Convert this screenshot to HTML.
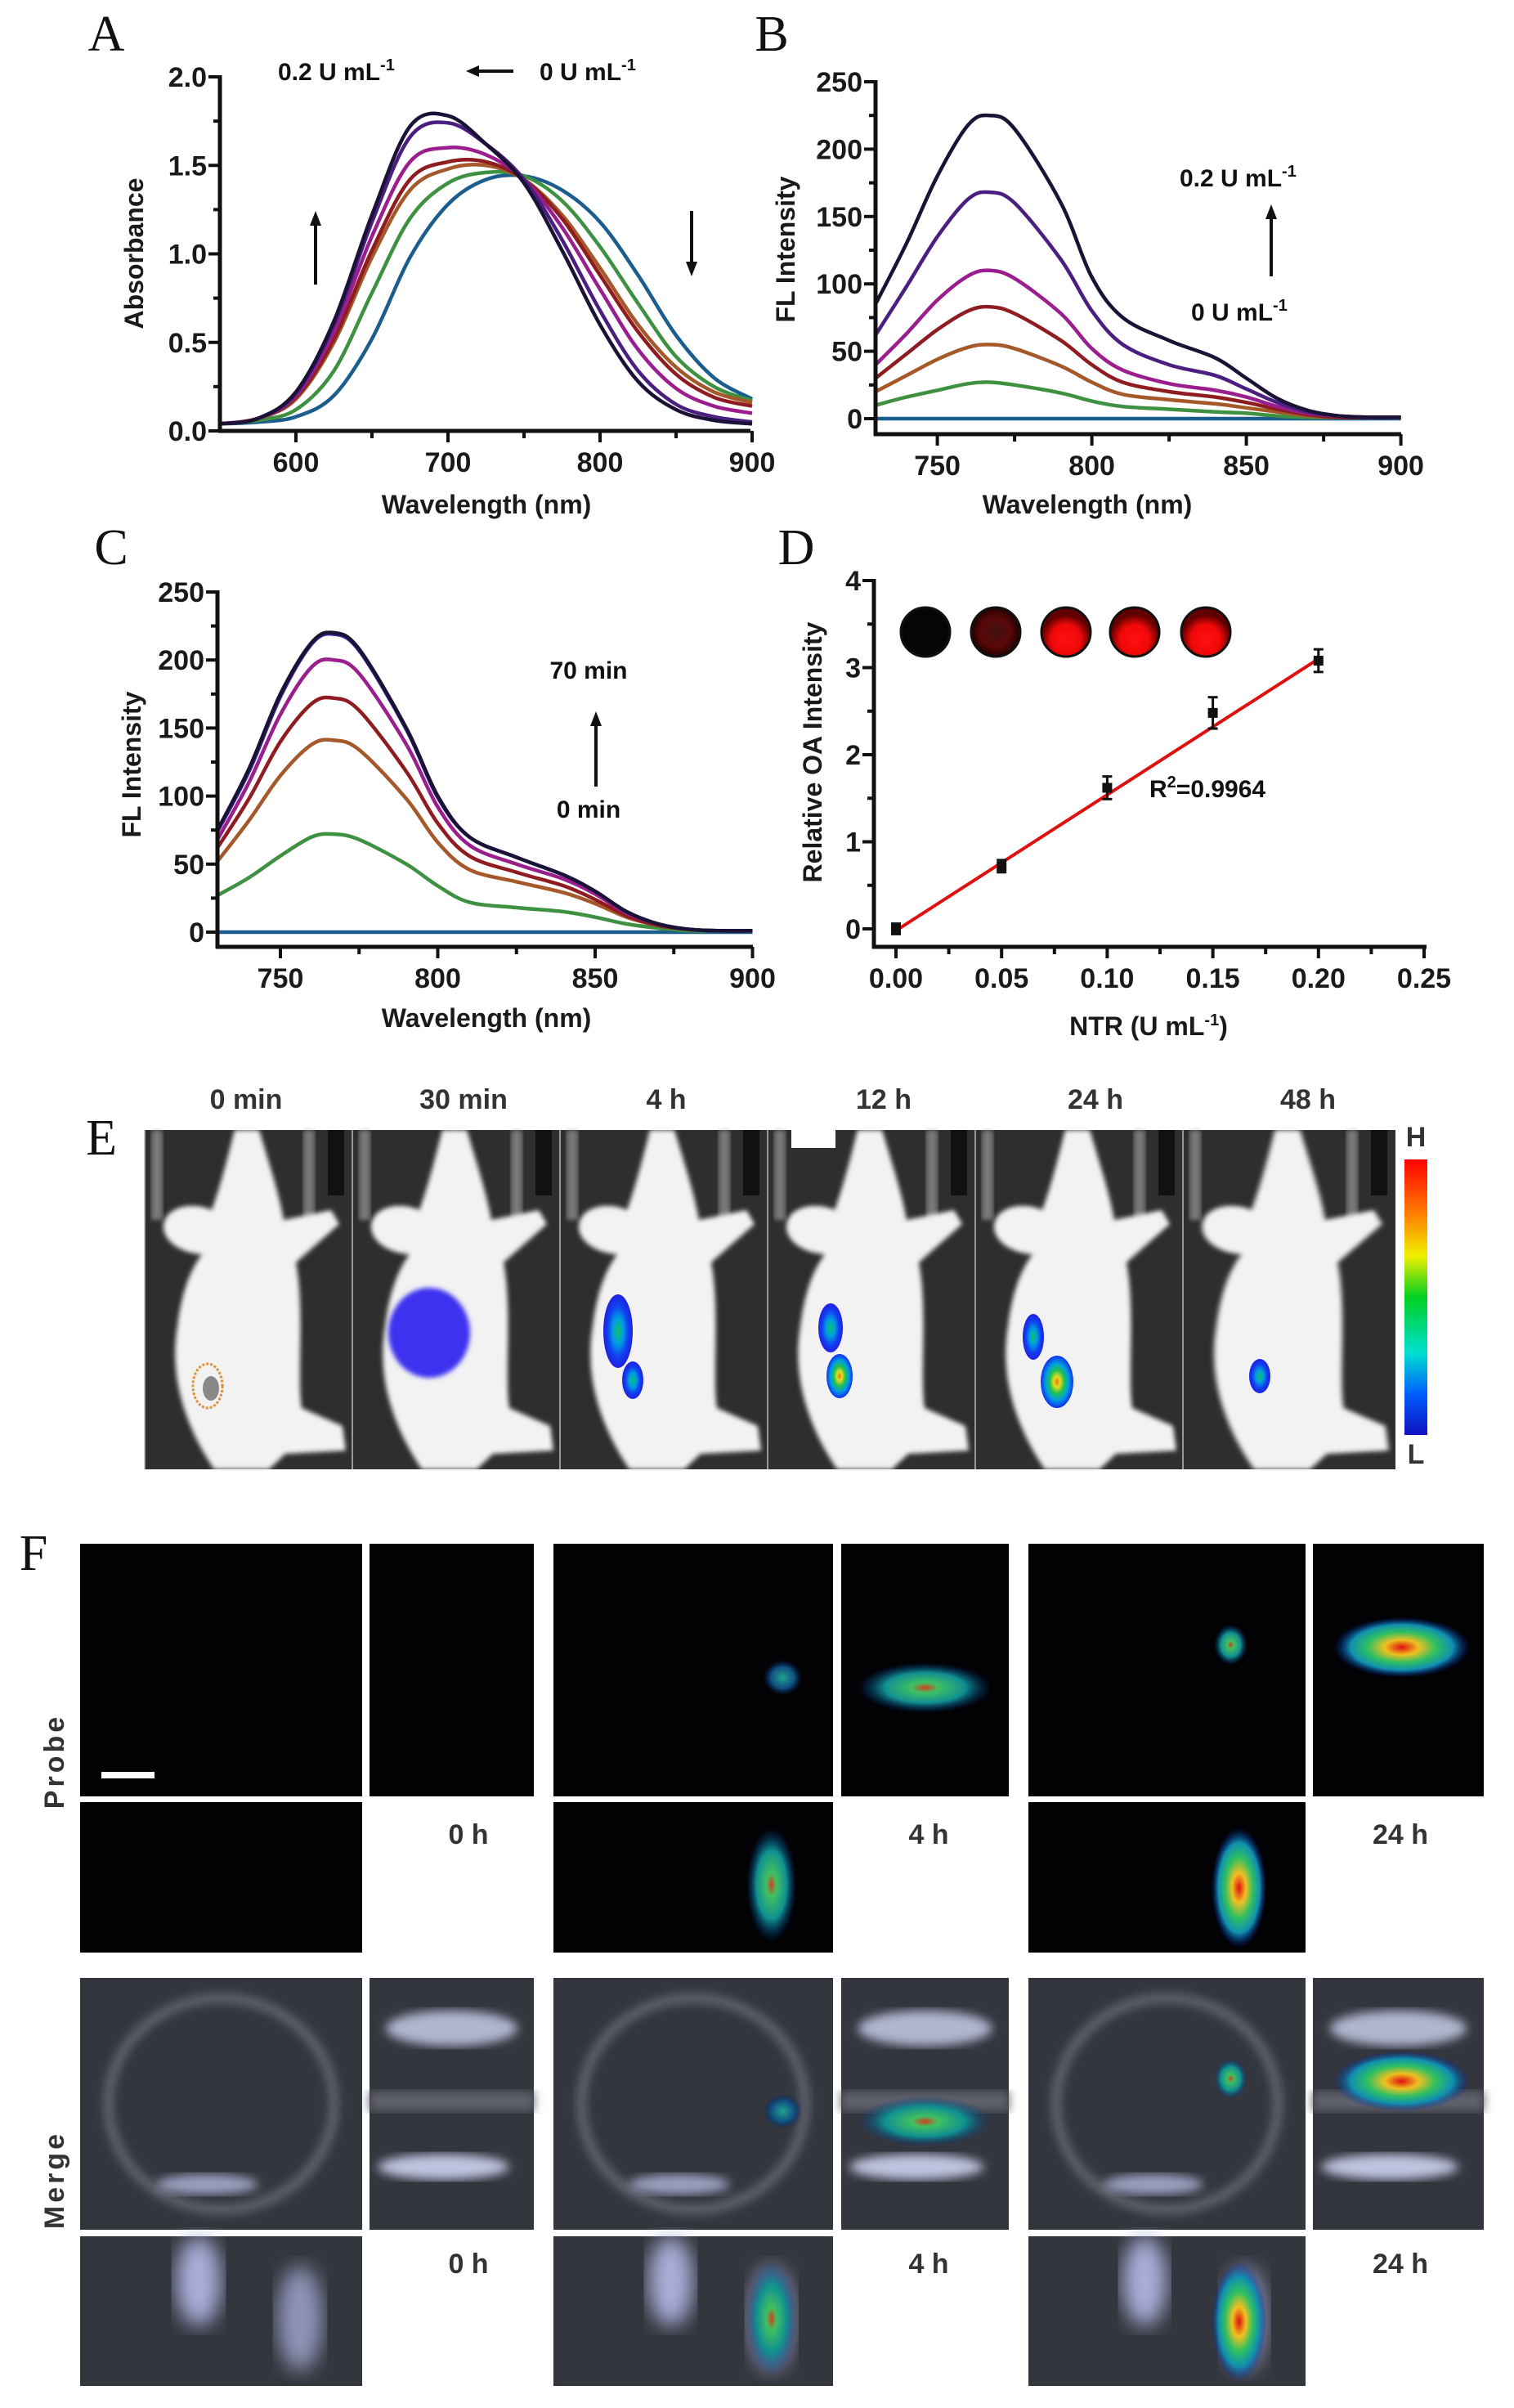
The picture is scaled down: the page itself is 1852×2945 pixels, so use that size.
<!DOCTYPE html>
<html><head><meta charset="utf-8">
<style>
html,body{margin:0;padding:0;background:#fff;}
svg{display:block;}
text{font-family:"Liberation Sans",Arial,sans-serif;}
.tk{font-size:34px;font-weight:bold;fill:#1a1a1a;}
.at{font-size:32px;font-weight:bold;fill:#1a1a1a;}
.pl{font-family:"Liberation Serif",serif;font-size:62px;fill:#111;}
.ann{font-size:30px;font-weight:bold;fill:#111;}
.el{font-size:34px;font-weight:bold;fill:#333;}
</style></head>
<body>
<svg id="fig" width="1852" height="2945" viewBox="0 0 1852 2945" xmlns="http://www.w3.org/2000/svg">
<defs>
<filter id="blur3"><feGaussianBlur stdDeviation="3"/></filter>
<filter id="blur6"><feGaussianBlur stdDeviation="6"/></filter>
<filter id="blur12"><feGaussianBlur stdDeviation="12"/></filter>
<radialGradient id="jetHot"><stop offset="0" stop-color="#e01010"/><stop offset="0.25" stop-color="#f0c020"/><stop offset="0.5" stop-color="#30c060"/><stop offset="0.75" stop-color="#1090b0"/><stop offset="1" stop-color="#0020a0" stop-opacity="0"/></radialGradient>
<radialGradient id="jetMid"><stop offset="0" stop-color="#d04020"/><stop offset="0.2" stop-color="#40c060"/><stop offset="0.6" stop-color="#109090"/><stop offset="1" stop-color="#003080" stop-opacity="0"/></radialGradient>
<radialGradient id="jetLow"><stop offset="0" stop-color="#20a090"/><stop offset="0.6" stop-color="#105080"/><stop offset="1" stop-color="#002060" stop-opacity="0"/></radialGradient>
<radialGradient id="ivisBlue"><stop offset="0" stop-color="#10c060"/><stop offset="0.35" stop-color="#00a0e0"/><stop offset="0.7" stop-color="#1040f0"/><stop offset="1" stop-color="#2020e0"/></radialGradient>
<radialGradient id="ivisHot"><stop offset="0" stop-color="#f07010"/><stop offset="0.2" stop-color="#e0e020"/><stop offset="0.45" stop-color="#20c050"/><stop offset="0.7" stop-color="#00a0e0"/><stop offset="1" stop-color="#1030f0"/></radialGradient>
<radialGradient id="dish1"><stop offset="0" stop-color="#401010"/><stop offset="0.6" stop-color="#5a0808"/><stop offset="1" stop-color="#200000"/></radialGradient>
<radialGradient id="dish2" cx="0.5" cy="0.65"><stop offset="0" stop-color="#ff1010"/><stop offset="0.6" stop-color="#f00808"/><stop offset="1" stop-color="#600000"/></radialGradient>
<linearGradient id="cbar" x1="0" y1="0" x2="0" y2="1"><stop offset="0" stop-color="#ff0000"/><stop offset="0.2" stop-color="#ff8000"/><stop offset="0.35" stop-color="#f0f000"/><stop offset="0.5" stop-color="#00d020"/><stop offset="0.7" stop-color="#00e0d0"/><stop offset="0.85" stop-color="#0060ff"/><stop offset="1" stop-color="#1010c0"/></linearGradient>
<radialGradient id="greyGlow"><stop offset="0" stop-color="#c8ccdc"/><stop offset="1" stop-color="#c8ccdc" stop-opacity="0"/></radialGradient>
</defs>
<g id="charts"></g>
<g id="panelE"></g>
<g id="panelF"></g>
</svg>
<script>
// ---------- DATA ----------
const wlA = [550,575,600,625,650,675,700,725,750,775,800,825,850,875,900];
const absBlack   = [0.04,0.07,0.22,0.62,1.22,1.72,1.78,1.62,1.40,1.02,0.60,0.28,0.12,0.06,0.04];
const absIndigo  = [0.04,0.07,0.21,0.60,1.18,1.66,1.74,1.62,1.42,1.08,0.68,0.34,0.15,0.08,0.05];
const absMagenta = [0.04,0.07,0.20,0.56,1.10,1.52,1.60,1.56,1.42,1.15,0.80,0.46,0.24,0.14,0.10];
const absRed     = [0.04,0.07,0.19,0.52,1.02,1.42,1.52,1.52,1.42,1.20,0.88,0.56,0.32,0.19,0.14];
const absBrown   = [0.04,0.07,0.18,0.50,0.98,1.36,1.48,1.50,1.42,1.22,0.92,0.60,0.36,0.22,0.16];
const absGreen   = [0.04,0.06,0.12,0.34,0.78,1.20,1.40,1.46,1.44,1.30,1.04,0.72,0.42,0.25,0.17];
const absBlue    = [0.04,0.05,0.08,0.20,0.52,0.98,1.28,1.42,1.44,1.36,1.18,0.88,0.54,0.30,0.18];
const ticksA_y = [0,0.5,1.0,1.5,2.0];
const ticksA_yLabels = ["0.0","0.5","1.0","1.5","2.0"];
const ticksA_x = [600,700,800,900];

const wlB = [730,740,750,760,767,775,790,800,810,825,840,850,860,870,880,890,900];
const flB_black   = [85,130,180,218,225,215,160,105,75,58,45,30,15,6,2,1,1];
const flB_indigo  = [62,98,135,163,168,160,118,80,55,40,32,22,12,5,2,1,1];
const flB_magenta = [40,63,88,106,110,104,78,52,36,26,21,16,9,4,2,1,1];
const flB_red     = [30,48,66,80,83,78,58,40,27,20,16,12,7,3,1,1,1];
const flB_brown   = [20,32,44,53,55,52,39,27,18,14,11,8,5,2,1,1,1];
const flB_green   = [10,16,21,26,27,25,19,13,9,7,5,4,2,1,1,1,1];
const flB_blue    = [0,0,0,0,0,0,0,0,0,0,0,0,0,0,0,0,0];

const flC_black   = [75,120,175,213,220,208,150,100,70,55,42,30,15,6,2,1,1];
const flC_indigo  = [74,118,173,212,219,207,149,99,70,55,42,30,15,6,2,1,1];
const flC_magenta = [68,110,160,195,200,190,138,92,64,50,39,28,14,6,2,1,1];
const flC_red     = [62,98,140,168,172,163,118,80,56,44,34,24,12,5,2,1,1];
const flC_brown   = [52,82,115,138,141,134,98,66,46,37,29,21,11,5,2,1,1];
const flC_green   = [27,40,56,70,72,68,50,34,22,18,15,11,6,3,1,1,1];
const flC_blue    = [0,0,0,0,0,0,0,0,0,0,0,0,0,0,0,0,0];
const ticksFL_y = [0,50,100,150,200,250];
const ticksFL_x = [750,800,850,900];

const ntrConc = [0,0.05,0.10,0.15,0.20];
const oaValue = [0.0,0.72,1.62,2.48,3.08];
const oaErr   = [0.06,0.07,0.13,0.18,0.13];
const fitSlope = 15.6, fitIntercept = -0.02;
const ticksD_x = [0,0.05,0.10,0.15,0.20,0.25];
const ticksD_xLabels = ["0.00","0.05","0.10","0.15","0.20","0.25"];
const ticksD_y = [0,1,2,3,4];

const colors = ["#1b1236","#4a1f80","#9a1e8e","#8e1c20","#a5582a","#3e9140","#1b5d8c"];

// ---------- helpers ----------
const NS="http://www.w3.org/2000/svg";
const charts=document.getElementById('charts');
function mk(tag,attrs,parent){const e=document.createElementNS(NS,tag);for(const k in attrs)e.setAttribute(k,attrs[k]);(parent||charts).appendChild(e);return e;}
function smooth(pts){let d="M"+pts[0][0].toFixed(1)+","+pts[0][1].toFixed(1);
 for(let i=0;i<pts.length-1;i++){const p0=pts[Math.max(0,i-1)],p1=pts[i],p2=pts[i+1],p3=pts[Math.min(pts.length-1,i+2)];
  const c1=[p1[0]+(p2[0]-p0[0])/6,p1[1]+(p2[1]-p0[1])/6],c2=[p2[0]-(p3[0]-p1[0])/6,p2[1]-(p3[1]-p1[1])/6];
  d+=" C"+c1[0].toFixed(1)+","+c1[1].toFixed(1)+" "+c2[0].toFixed(1)+","+c2[1].toFixed(1)+" "+p2[0].toFixed(1)+","+p2[1].toFixed(1);}
 return d;}
function txt(x,y,s,cls,anchor,extra){const t=mk('text',Object.assign({x:x,y:y,class:cls,'text-anchor':anchor||'middle'},extra||{}));t.textContent=s;return t;}

function drawAxes(o){
 const yAx=mk('line',{x1:o.x0,y1:o.yTop,x2:o.x0,y2:o.xLineY+2,stroke:'#111','stroke-width':5});
 
 
 const xAx=mk('line',{x1:o.x0-2,y1:o.xLineY,x2:o.x1,y2:o.xLineY,stroke:'#111','stroke-width':5});
 
 
 o.yt.forEach((v,i)=>{const y=o.ys(v);mk('line',{x1:o.x0-14,y1:y,x2:o.x0,y2:y,stroke:'#111','stroke-width':4});
  const t=txt(o.x0-16,y+12,o.ytl[i],'tk','end');
  
  });
 (o.minorY||[]).forEach(v=>{const y=o.ys(v);mk('line',{x1:o.x0-8,y1:y,x2:o.x0,y2:y,stroke:'#111','stroke-width':4});});
 o.xt.forEach((v,i)=>{const x=o.xs(v);mk('line',{x1:x,y1:o.xLineY,x2:x,y2:o.xLineY+14,stroke:'#111','stroke-width':4});
  const t=txt(x,o.xLineY+50,o.xtl[i],'tk','middle');
  
  });
 (o.minorX||[]).forEach(v=>{const x=o.xs(v);mk('line',{x1:x,y1:o.xLineY,x2:x,y2:o.xLineY+9,stroke:'#111','stroke-width':4});});
}
function drawSeries(xsArr,series,xs,ys,name,cols){
 series.forEach((s,i)=>{const pts=xsArr.map((w,j)=>[xs(w),ys(s[j])]);
  const p=mk('path',{d:smooth(pts),fill:'none',stroke:cols[i],'stroke-width':4.5,'stroke-linejoin':'round'});
  
  });
}
function arrow(x,y1,y2){
 const dir=y2<y1?1:-1;
 mk('line',{x1:x,y1:y1,x2:x,y2:y2+dir*14,stroke:'#111','stroke-width':4});
 mk('polygon',{points:`${x-7},${y2+dir*18} ${x+7},${y2+dir*18} ${x},${y2}`,fill:'#111'});
}
function unitLabel(x,y,num,anchor){
 const t=mk('text',{x:x,y:y,class:'ann','text-anchor':anchor||'start'});
 t.appendChild(document.createTextNode(num+' U mL'));
 const s=document.createElementNS(NS,'tspan');s.setAttribute('dy','-12');s.setAttribute('font-size','20');s.textContent='-1';t.appendChild(s);
 return t;
}
const revCols=colors.slice().reverse(); // blue, green, brown, red, magenta, indigo, black

// ---------- Panel A ----------
const xA=w=>269+(w-550)*1.86, yA=v=>527-v*216.5;
let t=txt(130,62,'A','pl','middle');
drawSeries(wlA,[absBlue,absGreen,absBrown,absRed,absMagenta,absIndigo,absBlack],xA,yA,'panel-a',revCols);
drawAxes({x0:269,x1:918,yTop:yA(2.0)-2,xLineY:527,xs:xA,ys:yA,xt:ticksA_x,xtl:ticksA_x.map(String),yt:ticksA_y,ytl:ticksA_yLabels,
 minorY:[0.25,0.75,1.25,1.75],minorX:[650,750,850],name:'panel-a'});
t=txt(175,310,'Absorbance','at','middle',{transform:'rotate(-90 175 310)'});
t=txt(595,628,'Wavelength (nm)','at','middle');
t=unitLabel(340,98,'0.2');
t=unitLabel(660,98,'0');
mk('line',{x1:628,y1:87,x2:580,y2:87,stroke:'#111','stroke-width':4});mk('polygon',{points:'570,87 586,80 586,94',fill:'#111'});
arrow(386,348,258);arrow(846,258,338);

// ---------- Panel B ----------
const xB=w=>1071+(w-730)*3.78, yB=v=>512-v*1.648;
t=txt(944,62,'B','pl','middle');
drawSeries(wlB,[flB_blue,flB_green,flB_brown,flB_red,flB_magenta,flB_indigo,flB_black],xB,yB,'panel-b',revCols);
drawAxes({x0:1071,x1:1714,yTop:yB(250)-2,xLineY:531,xs:xB,ys:yB,xt:ticksFL_x,xtl:ticksFL_x.map(String),yt:ticksFL_y,ytl:ticksFL_y.map(String),
 minorY:[25,75,125,175,225],minorX:[775,825,875],name:'panel-b'});
t=txt(972,305,'FL Intensity','at','middle',{transform:'rotate(-90 972 305)'});
t=txt(1330,628,'Wavelength (nm)','at','middle');
t=unitLabel(1443,228,'0.2');
t=unitLabel(1457,392,'0');
arrow(1555,338,250);

// ---------- Panel C ----------
const xC=w=>266+(w-730)*3.85, yC=v=>1140-v*1.664;
t=txt(136,690,'C','pl','middle');
const colsC=revCols.slice();colsC[5]='#3a2a9a';
drawSeries(wlB,[flC_blue,flC_green,flC_brown,flC_red,flC_magenta,flC_indigo,flC_black],xC,yC,'panel-c',colsC);
drawAxes({x0:266,x1:921,yTop:yC(250)-2,xLineY:1158,xs:xC,ys:yC,xt:ticksFL_x,xtl:ticksFL_x.map(String),yt:ticksFL_y,ytl:ticksFL_y.map(String),
 minorY:[25,75,125,175,225],minorX:[775,825,875],name:'panel-c'});
t=txt(172,935,'FL Intensity','at','middle',{transform:'rotate(-90 172 935)'});
t=txt(595,1256,'Wavelength (nm)','at','middle');
t=txt(720,830,'70 min','ann','middle');
t=txt(720,1000,'0 min','ann','middle');
arrow(729,962,870);

// ---------- Panel D ----------
const xD=q=>1096+q*2584, yD=v=>1136-v*106.5;
t=txt(974,690,'D','pl','middle');
drawAxes({x0:1069,x1:1745,yTop:yD(4)-2,xLineY:1158,xs:xD,ys:yD,xt:ticksD_x,xtl:ticksD_xLabels,yt:ticksD_y,ytl:ticksD_y.map(String),
 minorY:[0.5,1.5,2.5,3.5],minorX:[0.025,0.075,0.125,0.175,0.225],name:'panel-d'});
t=txt(1005,920,'Relative OA Intensity','at','middle',{transform:'rotate(-90 1005 920)'});
t=mk('text',{x:1405,y:1266,class:'at','text-anchor':'middle'});t.appendChild(document.createTextNode('NTR (U mL'));
(function(){const s=document.createElementNS(NS,'tspan');s.setAttribute('dy','-12');s.setAttribute('font-size','20');s.textContent='-1';t.appendChild(s);const s2=document.createElementNS(NS,'tspan');s2.setAttribute('dy','12');s2.textContent=')';t.appendChild(s2);})();

const fit=mk('line',{x1:xD(0),y1:yD(fitIntercept),x2:xD(0.2),y2:yD(fitIntercept+fitSlope*0.2),stroke:'#e01010','stroke-width':4});

ntrConc.forEach((q,i)=>{const x=xD(q),y=yD(oaValue[i]),e=oaErr[i]*106.5;
 mk('line',{x1:x,y1:y-e,x2:x,y2:y+e,stroke:'#111','stroke-width':3});
 mk('line',{x1:x-6,y1:y-e,x2:x+6,y2:y-e,stroke:'#111','stroke-width':3});
 mk('line',{x1:x-6,y1:y+e,x2:x+6,y2:y+e,stroke:'#111','stroke-width':3});
 const r=mk('rect',{x:x-6,y:y-6,width:12,height:12,fill:'#111'});
 
 });
t=mk('text',{x:1406,y:975,class:'ann'});t.appendChild(document.createTextNode('R'));
(function(){const s=document.createElementNS(NS,'tspan');s.setAttribute('dy','-12');s.setAttribute('font-size','20');s.textContent='2';t.appendChild(s);const s2=document.createElementNS(NS,'tspan');s2.setAttribute('dy','12');s2.textContent='=0.9964';t.appendChild(s2);})();

const dishX=[1132,1218,1304,1388,1475];
dishX.forEach((x,i)=>{const g=mk('ellipse',{cx:x,cy:773,rx:30,ry:30,fill:i==0?'#050505':(i==1?'url(#dish1)':'url(#dish2)'),stroke:'#111','stroke-width':3});
 
 });

// ---------- Panel E ----------
const pE=document.getElementById('panelE');
t=txt(124,1412,'E','pl','middle');pE.appendChild(t);
const eLabels=['0 min','30 min','4 h','12 h','24 h','48 h'];
const eCenters=[301,567,815,1081,1340,1600];
eLabels.forEach((s,i)=>{const tt=txt(eCenters[i],1356,s,'el','middle');pE.appendChild(tt);});
const eEdges=[177,431,685,939,1193,1447,1707];
for(let i=0;i<6;i++){
 const x0=eEdges[i],w=eEdges[i+1]-eEdges[i];
 const g=mk('g',{},pE);
 mk('rect',{x:x0,y:1382,width:w,height:415,fill:'#2e2e2e'},g);
 mk('rect',{x:x0+8,y:1382,width:14,height:110,fill:'#aaa',opacity:0.6,filter:'url(#blur3)'},g);
 mk('rect',{x:x0+w-60,y:1382,width:14,height:110,fill:'#aaa',opacity:0.6,filter:'url(#blur3)'},g);
 mk('rect',{x:x0+w-30,y:1382,width:20,height:80,fill:'#111'},g);
 const s=w/254;
 mk('path',{d:'M110,0 L140,0 C152,40 165,80 170,110 L228,98 L238,115 L185,162 C196,220 186,300 192,340 L242,362 L246,392 L172,396 L152,415 L85,415 C48,360 30,300 40,240 C45,200 55,172 70,152 C38,150 18,130 24,112 C30,92 62,88 82,98 C92,70 100,40 110,0 Z',
  fill:'#f2f2f2',filter:'url(#blur3)',transform:`translate(${x0},1382) scale(${s},1)`},g);
 mk('line',{x1:x0,y1:1382,x2:x0,y2:1797,stroke:'#bbb','stroke-width':1.5},g);
}
mk('rect',{x:968,y:1378,width:54,height:26,fill:'#fff'},pE);
mk('ellipse',{cx:254,cy:1695,rx:18,ry:27,fill:'none',stroke:'#e0903a','stroke-width':3,'stroke-dasharray':'3 2'},pE);
mk('ellipse',{cx:258,cy:1698,rx:10,ry:15,fill:'#888'},pE);
let sig=mk('ellipse',{cx:525,cy:1630,rx:50,ry:55,fill:'#3c32f0',filter:'url(#blur3)'},pE);
[[756,1628,18,45,'ivisBlue'],[774,1688,13,23,'ivisBlue'],[1016,1624,15,30,'ivisBlue'],[1027,1683,16,27,'ivisHot'],[1264,1635,13,28,'ivisBlue'],[1293,1690,20,32,'ivisHot'],[1541,1683,13,21,'ivisBlue']].forEach(b=>{
 const e=mk('ellipse',{cx:b[0],cy:b[1],rx:b[2],ry:b[3],fill:'url(#'+b[4]+')'},pE);
 
 });
const cb=mk('rect',{x:1718,y:1418,width:28,height:337,fill:'url(#cbar)'},pE);
t=txt(1732,1402,'H','el','middle');pE.appendChild(t);
t=txt(1732,1790,'L','el','middle');pE.appendChild(t);

// ---------- Panel F ----------
const pF=document.getElementById('panelF');
t=txt(41,1920,'F','pl','middle');pF.appendChild(t);
t=txt(78,2154,'Probe','el','middle',{transform:'rotate(-90 78 2154)','letter-spacing':'4'});pF.appendChild(t);
t=txt(78,2666,'Merge','el','middle',{transform:'rotate(-90 78 2666)','letter-spacing':'4'});pF.appendChild(t);
const groups=[{big:[98,443],small:[452,653],lbl:573,s:'0 h'},{big:[677,1019],small:[1029,1234],lbl:1136,s:'4 h'},{big:[1258,1597],small:[1606,1815],lbl:1713,s:'24 h'}];
const rows=[{top:[1888,2197],bot:[2204,2388],merge:false,ly:2255},{top:[2419,2727],bot:[2735,2918],merge:true,ly:2780}];
function blob(g,cx,cy,rx,ry,grad){mk('ellipse',{cx:cx,cy:cy,rx:rx,ry:ry,fill:'url(#'+grad+')'},g);}
rows.forEach((r,ri)=>{
 groups.forEach((gp,gi)=>{
  const panels=[[gp.big[0],r.top[0],gp.big[1]-gp.big[0],r.top[1]-r.top[0],'xy'],[gp.small[0],r.top[0],gp.small[1]-gp.small[0],r.top[1]-r.top[0],'xz'],[gp.big[0],r.bot[0],gp.big[1]-gp.big[0],r.bot[1]-r.bot[0],'yz']];
  panels.forEach(p=>{
   const g=mk('g',{},pF);
   
   
   const [x,y,w,h]=p;
   mk('rect',{x:x,y:y,width:w,height:h,fill:r.merge?'#34363e':'#020204'},g);
   if(r.merge){
    if(p[4]=='xy'){mk('ellipse',{cx:x+w*0.5,cy:y+h*0.5,rx:w*0.4,ry:h*0.42,fill:'none',stroke:'#6a6c78','stroke-width':10,filter:'url(#blur6)'},g);
      mk('ellipse',{cx:x+w*0.45,cy:y+h*0.82,rx:w*0.18,ry:h*0.04,fill:'#9aa0c0',filter:'url(#blur6)'},g);}
    else if(p[4]=='xz'){mk('ellipse',{cx:x+w*0.5,cy:y+h*0.2,rx:w*0.4,ry:h*0.07,fill:'#b0b6d0',filter:'url(#blur6)'},g);
      mk('ellipse',{cx:x+w*0.45,cy:y+h*0.75,rx:w*0.4,ry:h*0.05,fill:'#c0c4e0',filter:'url(#blur6)'},g);
      mk('rect',{x:x,y:y+h*0.45,width:w,height:h*0.08,fill:'#60626c',filter:'url(#blur6)'},g);}
    else {mk('ellipse',{cx:x+w*0.42,cy:y+h*0.3,rx:w*0.08,ry:h*0.3,fill:'#a8aed8',filter:'url(#blur12)'},g);
      mk('ellipse',{cx:x+w*0.78,cy:y+h*0.55,rx:w*0.08,ry:h*0.35,fill:'#8e94b8',filter:'url(#blur12)'},g);}
   }
   if(gi==1){
    if(p[4]=='xy')blob(g,x+w*0.82,y+h*0.53,w*0.07,h*0.07,'jetLow');
    if(p[4]=='xz')blob(g,x+w*0.5,y+h*0.57,w*0.4,h*0.1,'jetMid');
    if(p[4]=='yz')blob(g,x+w*0.78,y+h*0.55,w*0.09,h*0.38,'jetMid');
   }
   if(gi==2){
    if(p[4]=='xy')blob(g,x+w*0.73,y+h*0.4,w*0.06,h*0.08,'jetMid');
    if(p[4]=='xz')blob(g,x+w*0.52,y+h*0.41,w*0.4,h*0.12,'jetHot');
    if(p[4]=='yz')blob(g,x+w*0.76,y+h*0.57,w*0.1,h*0.4,'jetHot');
   }
  });
  const lt=txt(gp.lbl,r.ly,gp.s,'el','middle');pF.appendChild(lt);
  
  
 });
});
const sb=mk('rect',{x:124,y:2167,width:65,height:8,fill:'#fff'},pF);
</script>
</body></html>
